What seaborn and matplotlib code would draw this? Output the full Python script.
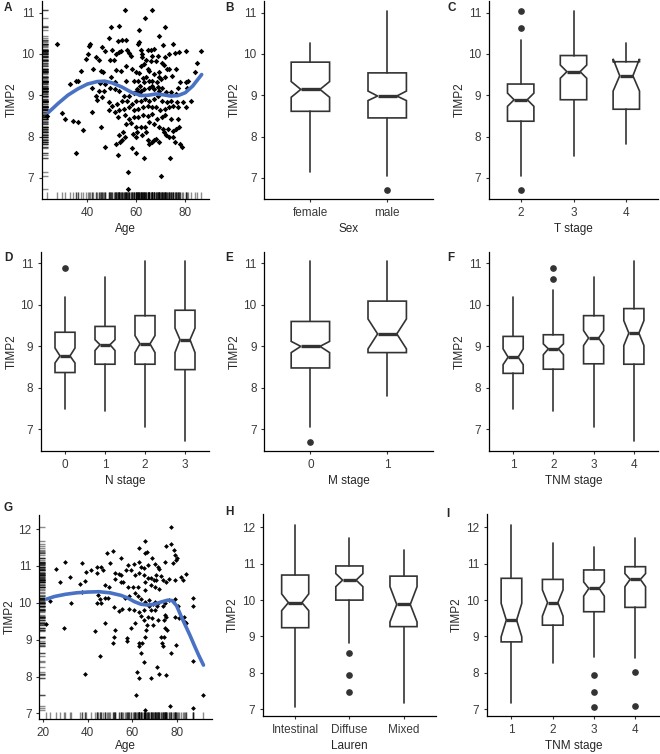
import numpy as np
import matplotlib
matplotlib.use('Agg')
import matplotlib.pyplot as plt
import seaborn as sns

# Panel A: Age vs TIMP2 (cohort 1)
age_a = [55.3, 66.6, 63.6, 52.8, 49.8, 71.9, 61.1, 69.1, 49.0, 54.2,
         52.6, 55.9, 61.1, 60.8, 27.4, 41.1, 40.7, 45.9, 70.8, 74.9,
         67.3, 65.9, 64.6, 61.8, 56.3, 53.8, 52.8, 51.7, 47.3, 50.1,
         40.4, 39.3, 43.4, 44.6, 49.4, 50.8, 57.0, 57.7, 62.5, 62.5,
         66.6, 68.7, 71.9, 73.5, 75.6, 77.4, 80.4, 86.5, 84.6, 64.1,
         65.9, 68.0, 70.5, 71.4, 72.4, 73.2, 76.3, 55.6, 51.7, 37.4,
         42.3, 45.4, 46.2, 58.3, 60.0, 61.1, 64.6, 65.2, 67.3, 69.4,
         69.1, 70.1, 68.3, 66.6, 65.2, 63.2, 60.8, 59.0, 55.9, 51.2,
         47.3, 45.2, 41.8, 36.3, 35.2, 32.8, 77.7, 80.1, 81.1, 84.0,
         71.9, 74.6, 77.0, 80.7, 76.3, 74.2, 72.1, 69.4, 67.3, 65.2,
         63.2, 61.8, 61.1, 60.4, 59.0, 57.0, 54.9, 52.8, 51.4, 49.4,
         46.6, 44.6, 43.4, 45.9, 44.0, 48.7, 50.1, 52.1, 54.2, 56.3,
         58.1, 59.7, 61.8, 63.6, 65.2, 67.3, 68.7, 70.5, 72.4, 74.2,
         76.6, 79.0, 82.5, 80.4, 77.0, 74.9, 73.5, 71.9, 69.7, 68.0,
         66.3, 64.6, 62.8, 60.8, 59.0, 57.0, 54.9, 52.8, 51.2, 49.0,
         41.8, 29.4, 23.6, 30.8, 34.2, 36.3, 45.7, 38.3, 52.6, 55.3,
         57.0, 59.0, 60.8, 62.8, 64.6, 66.6, 68.3, 70.5, 71.9, 74.2,
         77.0, 55.6, 57.7, 59.7, 61.8, 63.6, 65.2, 67.3, 69.4, 71.0,
         72.8, 74.9, 76.3, 77.4, 54.5, 52.8, 55.3, 58.6, 60.4, 62.5,
         63.9, 71.4, 72.1, 73.5, 74.9, 54.2, 53.5, 51.7, 59.7, 64.6,
         65.2, 66.3, 67.3, 68.0, 69.4, 75.6, 77.7, 78.8, 47.3, 58.1,
         59.7, 52.6, 35.2, 63.2, 73.8, 56.7, 70.1, 56.7, 60.4, 61.4,
         62.8, 64.1, 66.3, 68.7, 70.5, 53.9, 49.8, 61.8, 63.2]
timp2_a = [11.06, 11.06, 10.88, 10.68, 10.64, 10.65, 10.57, 10.44, 10.38, 10.33,
           10.30, 10.33, 10.28, 10.24, 10.24, 10.24, 10.20, 10.17, 10.22, 10.25,
           10.12, 10.09, 10.09, 10.09, 10.09, 10.08, 10.04, 10.00, 10.06, 10.09,
           10.00, 9.88, 9.93, 9.85, 9.85, 9.85, 10.01, 9.96, 10.00, 9.93,
           9.96, 9.96, 9.93, 10.00, 10.01, 10.04, 10.08, 10.08, 9.79, 9.85,
           9.82, 9.82, 9.77, 9.74, 9.63, 9.63, 9.63, 9.71, 9.61, 9.58,
           9.63, 9.59, 9.55, 9.63, 9.55, 9.53, 9.63, 9.58, 9.51, 9.55,
           9.45, 9.39, 9.31, 9.35, 9.35, 9.31, 9.35, 9.35, 9.35, 9.31,
           9.27, 9.29, 9.18, 9.35, 9.35, 9.27, 9.31, 9.31, 9.35, 9.55,
           9.45, 9.47, 9.18, 9.18, 9.03, 9.07, 9.07, 9.11, 9.15, 9.18,
           9.15, 9.10, 9.03, 9.15, 9.05, 8.99, 8.99, 9.11, 9.15, 9.18,
           9.11, 9.11, 8.97, 8.95, 8.89, 8.83, 8.75, 8.79, 8.87, 8.87,
           8.79, 8.87, 8.87, 8.91, 8.87, 8.91, 8.99, 8.87, 8.83, 8.87,
           8.83, 8.83, 8.87, 8.71, 8.71, 8.73, 8.71, 8.67, 8.63, 8.71,
           8.71, 8.75, 8.71, 8.67, 8.65, 8.71, 8.67, 8.63, 8.59, 8.63,
           8.59, 8.57, 8.49, 8.43, 8.37, 8.35, 8.24, 8.16, 8.47, 8.51,
           8.43, 8.47, 8.47, 8.51, 8.49, 8.55, 8.43, 8.47, 8.51, 8.43,
           8.43, 8.31, 8.33, 8.23, 8.24, 8.23, 8.35, 8.31, 8.24, 8.19,
           8.19, 8.13, 8.19, 8.23, 8.11, 8.03, 7.99, 8.07, 8.11, 8.03,
           8.11, 8.11, 8.03, 7.99, 7.99, 7.91, 7.87, 7.83, 7.99, 7.91,
           7.83, 7.87, 7.91, 7.95, 7.87, 7.87, 7.83, 7.75, 7.75, 7.71,
           7.60, 7.55, 7.59, 7.47, 7.49, 7.14, 7.05, 6.72, 9.11, 9.23,
           9.42, 9.45, 9.23, 9.21, 9.18, 9.58, 9.43, 9.71, 9.76]
# smoothed fit
fit_age_a = [24, 28, 32, 36, 40, 44, 47, 50, 54, 58, 62, 65, 68, 71, 74, 77, 80, 83, 86.7]
fit_a = [8.58, 8.80, 9.00, 9.15, 9.27, 9.33, 9.34, 9.30, 9.20, 9.07, 8.99, 9.00,
         9.03, 9.01, 8.98, 8.99, 9.06, 9.22, 9.50]

# Panel G: Age vs TIMP2 (cohort 2)
age_g = [77.3, 65.9, 77.6, 75.2, 63.2, 78.8, 66.8, 48.8, 51.5, 79.4,
         29.9, 37.4, 44.3, 46.1, 41.6, 25.8, 39.3, 47.0, 49.8, 52.4,
         54.8, 58.1, 60.8, 63.3, 64.1, 65.3, 67.1, 68.9, 70.1, 71.6,
         72.3, 74.6, 78.3, 79.8, 80.3, 84.3, 82.1, 82.8, 79.1, 76.8,
         75.3, 73.8, 69.8, 68.6, 67.1, 65.3, 63.3, 61.1, 59.6, 57.3,
         55.1, 53.9, 52.4, 55.8, 58.1, 60.3, 65.9, 68.3, 65.9, 70.8,
         70.4, 71.9, 31.8, 27.3, 36.3, 38.6, 47.6, 49.4, 49.1, 47.9,
         45.3, 44.3, 46.1, 32.6, 23.0, 44.6, 56.6, 58.8, 61.1, 62.6,
         64.1, 65.6, 67.4, 69.3, 70.1, 71.6, 73.8, 74.6, 76.8, 79.1,
         80.6, 87.3, 87.3, 51.8, 53.9, 55.4, 58.4, 60.8, 62.9, 63.8,
         65.3, 67.1, 68.9, 70.1, 71.3, 74.6, 75.3, 79.4, 81.3, 83.3,
         83.6, 84.3, 75.0, 74.3, 69.3, 66.8, 66.3, 65.6, 64.4, 63.3,
         62.9, 63.8, 65.3, 62.3, 62.9, 68.3, 71.9, 75.3, 71.3, 73.7,
         73.5, 72.8, 74.3, 75.8, 79.8, 77.6, 61.1, 59.6, 57.8, 57.8,
         52.1, 51.8, 51.3, 47.6, 43.1, 45.3, 29.3, 21.3, 38.6, 37.4,
         44.3, 55.1, 65.6, 61.7, 65.9, 77.1, 87.5, 92.1, 87.3, 68.6,
         67.8, 71.6, 65.3, 62.6, 70.8, 73.1]
timp2_g = [12.06, 11.68, 11.59, 11.55, 11.48, 11.43, 11.37, 11.36, 11.41, 11.30,
           11.11, 11.07, 10.96, 10.96, 10.89, 10.91, 10.83, 10.89, 11.07, 10.82,
           11.22, 11.02, 11.05, 11.11, 10.98, 10.93, 11.02, 11.21, 11.05, 10.98,
           10.91, 11.11, 11.07, 11.16, 11.21, 10.77, 10.71, 10.62, 10.62, 10.64,
           10.57, 10.62, 10.62, 10.68, 10.66, 10.75, 10.82, 10.75, 10.89, 10.89,
           10.75, 10.78, 10.64, 10.57, 10.44, 10.42, 10.55, 10.48, 10.35, 10.62,
           10.44, 10.36, 10.71, 10.55, 10.51, 10.60, 10.48, 10.42, 10.14, 10.12,
           10.09, 10.00, 9.99, 9.99, 10.05, 10.21, 10.12, 10.17, 10.27, 10.17,
           10.09, 10.03, 10.08, 9.97, 10.03, 9.99, 9.90, 10.00, 10.08, 10.09,
           9.90, 10.12, 9.90, 9.88, 9.79, 9.82, 9.82, 9.80, 9.76, 9.64,
           9.53, 9.62, 9.58, 9.80, 9.90, 9.67, 9.62, 9.61, 9.58, 9.62,
           9.49, 9.44, 9.31, 9.53, 9.40, 9.40, 9.26, 9.08, 8.90, 8.92,
           8.83, 8.65, 8.40, 8.13, 7.95, 7.95, 8.06, 8.04, 8.27, 8.83,
           8.90, 9.08, 9.06, 9.26, 8.86, 8.65, 9.44, 9.31, 9.04, 8.95,
           9.26, 9.06, 8.92, 9.46, 9.24, 8.57, 9.31, 9.42, 8.06, 10.30,
           10.80, 10.55, 11.34, 7.50, 7.09, 7.19, 7.14, 7.50, 8.43, 9.80,
           9.90, 9.53, 9.80, 10.44, 10.75, 10.73]
fit_age_g = [21.5, 25, 30, 35, 40, 45, 50, 55, 58, 61, 64, 67, 70, 73, 76, 78,
             80, 82, 84, 86, 88, 90, 92.1]
fit_g = [10.10, 10.17, 10.23, 10.27, 10.29, 10.30, 10.27, 10.20, 10.13, 10.03,
         9.96, 9.94, 9.96, 10.02, 10.07, 10.06, 9.92, 9.64, 9.38, 9.12, 8.84,
         8.57, 8.31]

# Panel B: Sex
sex_groups = ['female', 'male']
sex_q1 = [8.61, 8.45]
sex_med = [9.14, 8.98]
sex_q3 = [9.80, 9.54]
sex_lo = [7.13, 7.04]
sex_hi = [10.26, 11.04]
sex_ci_lo = [8.95, 8.87]
sex_ci_hi = [9.33, 9.10]
sex_out = [[], [6.70]]

# Panel C: T stage
t_groups = ['2', '3', '4']
t_q1 = [8.37, 8.89, 8.66]
t_med = [8.89, 9.57, 9.47]
t_q3 = [9.27, 9.96, 9.81]
t_lo = [7.04, 7.53, 7.81]
t_hi = [10.33, 11.04, 10.26]
t_ci_lo = [8.73, 9.41, 9.10]
t_ci_hi = [9.05, 9.73, 9.88]
t_out = [[11.04, 10.62, 6.70], [], []]

# Panel D: N stage
n_groups = ['0', '1', '2', '3']
n_q1 = [8.37, 8.57, 8.57, 8.44]
n_med = [8.77, 9.04, 9.06, 9.16]
n_q3 = [9.34, 9.48, 9.74, 9.87]
n_lo = [7.48, 7.45, 7.05, 6.72]
n_hi = [10.19, 10.68, 11.06, 11.06]
n_ci_lo = [8.60, 8.90, 8.85, 8.85]
n_ci_hi = [8.96, 9.16, 9.26, 9.44]
n_out = [[10.88], [], [], []]

# Panel E: M stage
m_groups = ['0', '1']
m_q1 = [8.48, 8.85]
m_med = [9.00, 9.30]
m_q3 = [9.60, 10.09]
m_lo = [7.05, 7.81]
m_hi = [11.06, 11.06]
m_ci_lo = [8.85, 8.94]
m_ci_hi = [9.12, 9.66]
m_out = [[6.70], []]

# Panel F: TNM stage (cohort 1)
tnm1_groups = ['1', '2', '3', '4']
tnm1_q1 = [8.35, 8.45, 8.58, 8.57]
tnm1_med = [8.74, 8.94, 9.20, 9.32]
tnm1_q3 = [9.24, 9.28, 9.74, 9.91]
tnm1_lo = [7.48, 7.45, 7.05, 6.72]
tnm1_hi = [10.19, 10.35, 10.68, 11.06]
tnm1_ci_lo = [8.56, 8.80, 9.02, 9.02]
tnm1_ci_hi = [8.94, 9.06, 9.38, 9.62]
tnm1_out = [[], [10.88, 10.63], [], []]

# Panel H: Lauren
lauren_groups = ['Intestinal', 'Diffuse', 'Mixed']
lauren_q1 = [9.24, 10.00, 9.27]
lauren_med = [9.93, 10.55, 9.88]
lauren_q3 = [10.69, 10.94, 10.66]
lauren_lo = [7.05, 8.81, 7.16]
lauren_hi = [12.08, 11.70, 11.39]
lauren_ci_lo = [9.71, 10.37, 9.40]
lauren_ci_hi = [10.17, 10.73, 10.37]
lauren_out = [[], [8.55, 7.94, 7.48], []]

# Panel I: TNM stage (cohort 2)
tnm2_groups = ['1', '2', '3', '4']
tnm2_q1 = [8.85, 9.31, 9.68, 9.80]
tnm2_med = [9.45, 9.93, 10.32, 10.57]
tnm2_q3 = [10.60, 10.57, 10.83, 10.92]
tnm2_lo = [7.16, 8.26, 8.44, 8.41]
tnm2_hi = [12.08, 11.56, 11.45, 11.70]
tnm2_ci_lo = [8.99, 9.56, 10.11, 10.37]
tnm2_ci_hi = [9.91, 10.28, 10.50, 10.73]
tnm2_out = [[], [], [7.94, 7.46, 7.05], [8.03, 7.08]]

sns.set_theme(style='ticks')
plt.rcParams['font.family'] = ['Liberation Sans', 'DejaVu Sans']
plt.rcParams['axes.linewidth'] = 0.9
plt.rcParams['xtick.major.size'] = 2.5
plt.rcParams['ytick.major.size'] = 2.5
plt.rcParams['xtick.major.pad'] = 3
plt.rcParams['ytick.major.pad'] = 3
plt.rcParams['xtick.major.width'] = 0.8
plt.rcParams['ytick.major.width'] = 0.8
plt.rcParams['xtick.color'] = '#333333'
plt.rcParams['ytick.color'] = '#333333'
plt.rcParams['xtick.labelcolor'] = '#3a3a3a'
plt.rcParams['ytick.labelcolor'] = '#3a3a3a'
plt.rcParams['xtick.labelsize'] = 8.5
plt.rcParams['ytick.labelsize'] = 8.5
plt.rcParams['axes.labelsize'] = 8.5
plt.rcParams['axes.labelpad'] = 3
plt.rcParams['axes.edgecolor'] = 'black'

W, H = 660, 754
fig = plt.figure(figsize=(W / 100, H / 100), dpi=100)


def add_ax(l, t, r, b):
    return fig.add_axes([l / W, 1 - b / H, (r - l) / W, (b - t) / H])


BLUE = '#4a72c4'
EDGE = '#333333'


def scatter_panel(ax, age, timp, fit_x, fit_y, xlim, ylim, msize):
    sns.rugplot(x=age, y=timp, ax=ax, height=0.035, color='black', alpha=0.45,
                lw=0.6, expand_margins=False)
    sns.scatterplot(x=age, y=timp, ax=ax, color='black', marker='D', s=msize,
                    linewidth=0)
    sns.lineplot(x=fit_x, y=fit_y, ax=ax, color=BLUE, lw=2.6)
    ax.set_xlim(*xlim)
    ax.set_ylim(*ylim)
    ax.set_xlabel('Age')
    ax.set_ylabel('TIMP2', labelpad=2)
    sns.despine(ax=ax)


def box_panel(ax, groups, q1, med, q3, lo, hi, ci_lo, ci_hi, out, xlabel, ylim):
    stats = []
    for i in range(len(groups)):
        stats.append(dict(label=groups[i], q1=q1[i], med=med[i], q3=q3[i],
                          whislo=lo[i], whishi=hi[i], cilo=ci_lo[i],
                          cihi=ci_hi[i], fliers=np.array(out[i])))
    pos = np.arange(1, len(groups) + 1)
    ax.bxp(stats, positions=pos, widths=0.5, shownotches=True, showcaps=False,
           patch_artist=True,
           boxprops=dict(facecolor='white', edgecolor=EDGE, linewidth=1.2),
           whiskerprops=dict(color=EDGE, linewidth=1.2),
           medianprops=dict(color=EDGE, linewidth=2.4),
           flierprops=dict(marker='o', markerfacecolor=EDGE,
                           markeredgecolor=EDGE, markersize=3.8))
    ax.set_xlim(0.4, len(groups) + 0.6)
    ax.set_ylim(*ylim)
    ax.set_xticks(pos)
    ax.set_xticklabels(groups)
    ax.set_xlabel(xlabel)
    ax.set_ylabel('TIMP2', labelpad=2)
    sns.despine(ax=ax)


ylim_top = (6.48, 11.28)
ylim_bot = (6.81, 12.37)

ax = add_ax(41.7, 1, 209, 199.3)
scatter_panel(ax, age_a, timp2_a, fit_age_a, fit_a, (21.3, 89.7), ylim_top, 8)
ax.set_xticks([40, 60, 80])
ax.set_yticks([7, 8, 9, 10, 11])

ax = add_ax(264.3, 1, 433.3, 199.3)
box_panel(ax, sex_groups, sex_q1, sex_med, sex_q3, sex_lo, sex_hi, sex_ci_lo,
          sex_ci_hi, sex_out, 'Sex', ylim_top)

ax = add_ax(489, 1, 658, 199.3)
box_panel(ax, t_groups, t_q1, t_med, t_q3, t_lo, t_hi, t_ci_lo, t_ci_hi,
          t_out, 'T stage', ylim_top)

ax = add_ax(41, 251.7, 209, 451)
box_panel(ax, n_groups, n_q1, n_med, n_q3, n_lo, n_hi, n_ci_lo, n_ci_hi,
          n_out, 'N stage', ylim_top)

ax = add_ax(264.3, 251.7, 433.3, 451)
box_panel(ax, m_groups, m_q1, m_med, m_q3, m_lo, m_hi, m_ci_lo, m_ci_hi,
          m_out, 'M stage', ylim_top)

ax = add_ax(489, 251.7, 658, 451)
box_panel(ax, tnm1_groups, tnm1_q1, tnm1_med, tnm1_q3, tnm1_lo, tnm1_hi,
          tnm1_ci_lo, tnm1_ci_hi, tnm1_out, 'TNM stage', ylim_top)

ax = add_ax(39.3, 515, 211.7, 719.3)
scatter_panel(ax, age_g, timp2_g, fit_age_g, fit_g, (18.2, 95.8),
              (6.84, 12.38), 6)
ax.set_xticks([20, 40, 60, 80])
ax.set_yticks([7, 8, 9, 10, 11, 12])
ax.xaxis.labelpad = 1

ax = add_ax(262.7, 514, 436, 716)
box_panel(ax, lauren_groups, lauren_q1, lauren_med, lauren_q3, lauren_lo,
          lauren_hi, lauren_ci_lo, lauren_ci_hi, lauren_out, 'Lauren', ylim_bot)
ax.xaxis.labelpad = 3

ax = add_ax(486.7, 514, 660, 716)
box_panel(ax, tnm2_groups, tnm2_q1, tnm2_med, tnm2_q3, tnm2_lo, tnm2_hi,
          tnm2_ci_lo, tnm2_ci_hi, tnm2_out, 'TNM stage', ylim_bot)
ax.xaxis.labelpad = 3

# panel letters
letters = [('A', 4, 8), ('B', 225, 8), ('C', 447, 8),
           ('D', 4, 258), ('E', 225, 258), ('F', 447, 258),
           ('G', 4, 508), ('H', 225, 512), ('I', 446, 514)]
for txt, x, y in letters:
    fig.text(x / W, 1 - y / H, txt, fontsize=8.5, fontweight='bold',
             ha='left', va='center')

fig.savefig('out.png', dpi=100)
